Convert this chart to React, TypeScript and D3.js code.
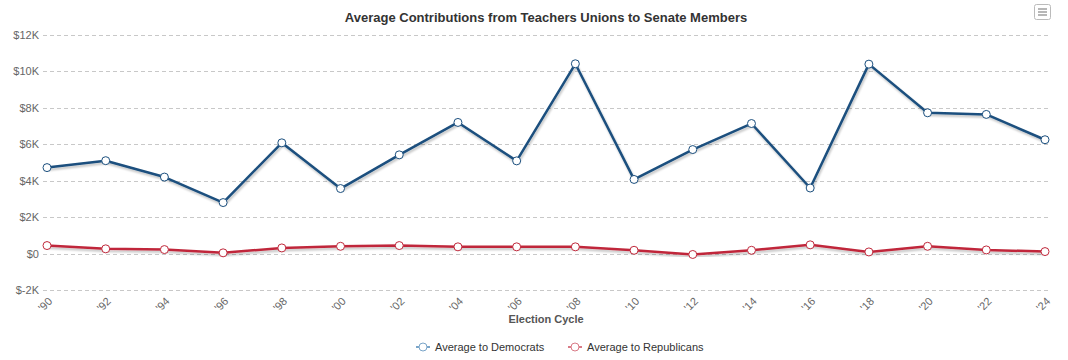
import React, { useEffect, useRef } from 'react';
import * as d3 from 'd3';

const cycles = ["'90", "'92", "'94", "'96", "'98", "'00", "'02", "'04", "'06", "'08", "'10", "'12", "'14", "'16", "'18", "'20", "'22", "'24"];
const democrats = [4720, 5100, 4200, 2800, 6080, 3570, 5420, 7200, 5090, 10420, 4070, 5710, 7140, 3600, 10400, 7730, 7640, 6250];
const republicans = [440, 260, 220, 40, 310, 400, 440, 370, 370, 370, 180, -50, 180, 480, 90, 400, 200, 110];
const yTicks = [-2000, 0, 2000, 4000, 6000, 8000, 10000, 12000];

const W = 1068;
const H = 360;
const FONT = '"Liberation Sans", Arial, Helvetica, sans-serif';

const App = () => {
  const ref = useRef<SVGSVGElement>(null);

  useEffect(() => {
    const svg = d3.select(ref.current);
    svg.selectAll('*').remove();

    const x = d3.scalePoint<string>().domain(cycles).range([47, 1045]);
    const y = d3.scaleLinear().domain([-2000, 12000]).range([290, 35]);

    // shadow like the original
    const defs = svg.append('defs');
    const f = defs.append('filter').attr('id', 'shadow').attr('x', '-5%').attr('y', '-20%').attr('width', '110%').attr('height', '140%');
    f.append('feGaussianBlur').attr('in', 'SourceAlpha').attr('stdDeviation', 1.2);
    f.append('feOffset').attr('dx', 1).attr('dy', 1.5).attr('result', 'ob');
    f.append('feComponentTransfer').append('feFuncA').attr('type', 'linear').attr('slope', 0.25);
    const m = f.append('feMerge');
    m.append('feMergeNode');
    m.append('feMergeNode').attr('in', 'SourceGraphic');

    svg.append('text')
      .attr('x', 546).attr('y', 22)
      .attr('text-anchor', 'middle')
      .attr('font-family', FONT).attr('font-size', 13).attr('font-weight', 'bold')
      .attr('fill', '#333')
      .text('Average Contributions from Teachers Unions to Senate Members');

    // menu button
    const btn = svg.append('g').attr('transform', 'translate(1034,4)');
    btn.append('rect').attr('x', 0.5).attr('y', 0.5).attr('width', 16).attr('height', 15).attr('rx', 2)
      .attr('fill', '#fff').attr('stroke', '#bbb');
    [5, 8, 11].forEach((yy) => {
      btn.append('line').attr('x1', 4).attr('x2', 13).attr('y1', yy).attr('y2', yy).attr('stroke', '#888').attr('stroke-width', 1.2);
    });

    // gridlines + y labels
    const grid = svg.append('g');
    yTicks.forEach((t) => {
      grid.append('line')
        .attr('x1', 43).attr('x2', 1050)
        .attr('y1', Math.round(y(t)) + 0.5).attr('y2', Math.round(y(t)) + 0.5)
        .attr('stroke', '#c8c8c8').attr('stroke-dasharray', '4,3');
      grid.append('text')
        .attr('x', 39).attr('y', y(t) + 4)
        .attr('text-anchor', 'end')
        .attr('font-family', FONT).attr('font-size', 11).attr('fill', '#666')
        .text(t < 0 ? `$-${Math.abs(t) / 1000}K` : t === 0 ? '$0' : `$${t / 1000}K`);
    });

    // x labels
    svg.append('g').selectAll('text')
      .data(cycles).enter().append('text')
      .attr('transform', (d) => `translate(${x(d)! + 6},${302}) rotate(-45)`)
      .attr('text-anchor', 'end')
      .attr('font-family', FONT).attr('font-size', 11).attr('fill', '#666')
      .text((d) => d);

    svg.append('text')
      .attr('x', 546).attr('y', 323)
      .attr('text-anchor', 'middle')
      .attr('font-family', FONT).attr('font-size', 11).attr('font-weight', 'bold')
      .attr('fill', '#555')
      .text('Election Cycle');

    const series = [
      { name: 'Average to Democrats', values: democrats, color: '#1b4f7e' },
      { name: 'Average to Republicans', values: republicans, color: '#c0283b' },
    ];

    const line = d3.line<number>()
      .x((_, i) => x(cycles[i])!)
      .y((d) => y(d));

    series.forEach((s) => {
      const g = svg.append('g');
      g.append('path')
        .attr('d', line(s.values))
        .attr('fill', 'none')
        .attr('stroke', s.color)
        .attr('stroke-width', 2.5)
        .attr('stroke-linejoin', 'round')
        .attr('filter', 'url(#shadow)');
      g.selectAll('circle')
        .data(s.values).enter().append('circle')
        .attr('cx', (_, i) => x(cycles[i])!)
        .attr('cy', (d) => y(d))
        .attr('r', 4)
        .attr('fill', '#fff')
        .attr('stroke', s.color)
        .attr('stroke-width', 1);
    });

    // legend
    const legend = svg.append('g');
    const items = [
      { name: series[0].name, color: '#7aa5c9', x: 416 },
      { name: series[1].name, color: '#d97b87', x: 568 },
    ];
    items.forEach((it) => {
      const lg = legend.append('g').attr('transform', `translate(${it.x},347)`);
      lg.append('line').attr('x1', 0).attr('x2', 14).attr('y1', 0).attr('y2', 0)
        .attr('stroke', it.color).attr('stroke-width', 2);
      lg.append('circle').attr('cx', 7).attr('cy', 0).attr('r', 4)
        .attr('fill', '#fff').attr('stroke', it.color).attr('stroke-width', 1);
      lg.append('text').attr('x', 19).attr('y', 4)
        .attr('font-family', FONT).attr('font-size', 11).attr('fill', '#333')
        .text(it.name);
    });
  }, []);

  return (
    <svg ref={ref} width={W} height={H}
      style={{ position: 'absolute', left: 0, top: 0, background: '#fff' }} />
  );
};

export default App;
